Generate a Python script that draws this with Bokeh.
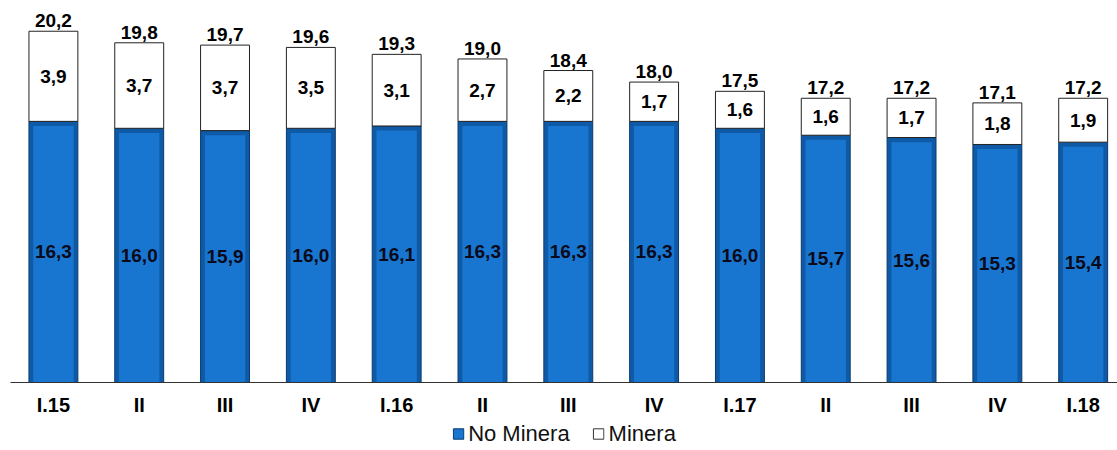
from bokeh.plotting import figure
from bokeh.layouts import column
from bokeh.models import ColumnDataSource, Range1d, FixedTicker, Legend, LegendItem
from bokeh.core.properties import value
from bokeh.embed import file_html
from bokeh.resources import INLINE

categories = ["I.15", "II", "III", "IV", "I.16", "II", "III", "IV", "I.17", "II", "III", "IV", "I.18"]
no_minera = [16.3, 16.0, 15.9, 16.0, 16.1, 16.3, 16.3, 16.3, 16.0, 15.7, 15.6, 15.3, 15.4]
minera = [3.9, 3.7, 3.7, 3.5, 3.1, 2.7, 2.2, 1.7, 1.6, 1.6, 1.7, 1.8, 1.9]
totals = [20.2, 19.8, 19.7, 19.6, 19.3, 19.0, 18.4, 18.0, 17.5, 17.2, 17.2, 17.1, 17.2]
series_names = ["No Minera", "Minera"]

Y_MIN = 5.0
Y_MAX = 21.53

BLUE_EDGE = "#0f5aa6"
BLUE_LINE = "#0a3a6e"
BLUE_MAIN = "#1976d0"

def fmt(v):
    return f"{v:.1f}".replace(".", ",")

x = list(range(len(categories)))
top = [a + b for a, b in zip(no_minera, minera)]
src = ColumnDataSource(dict(
    x=x,
    nm=no_minera,
    nm_inner=[v - 0.2 for v in no_minera],
    nm_lab=[fmt(v) for v in no_minera],
    nm_y=[(Y_MIN + v) / 2 for v in no_minera],
    m=minera,
    top=top,
    m_lab=[fmt(v) for v in minera],
    m_y=[a + b / 2 for a, b in zip(no_minera, minera)],
    tot=totals,
    tot_lab=[fmt(v) for v in totals],
))

p = figure(frame_width=1107, frame_height=382,
           output_backend="svg", toolbar_location=None,
           x_range=Range1d(-0.5, 12.4), y_range=Range1d(Y_MIN, Y_MAX),
           min_border_left=10, min_border_right=0, min_border_top=0, min_border_bottom=0)
p.outline_line_color = None
p.xgrid.visible = False
p.ygrid.visible = False
p.yaxis.visible = False

BW = 0.57
p.vbar(x="x", top="nm", bottom=0, width=BW, source=src,
       fill_color=BLUE_EDGE, line_color=BLUE_LINE, line_width=1)
p.vbar(x="x", top="nm_inner", bottom=0, width=BW - 0.1, source=src,
       fill_color=BLUE_MAIN, line_color=None)
p.vbar(x="x", top="top", bottom="nm", width=BW, source=src,
       fill_color="white", line_color="#222222", line_width=1)

font = value("Liberation Sans")
p.text(x="x", y="nm_y", text="nm_lab", source=src, text_align="center", text_baseline="middle",
       text_font=font, text_font_style="bold", text_font_size="19px", text_color="#0a0a1a")
p.text(x="x", y="m_y", text="m_lab", source=src, text_align="center", text_baseline="middle",
       text_font=font, text_font_style="bold", text_font_size="19px", text_color="#000000")
p.text(x="x", y="top", text="tot_lab", source=src, text_align="center", text_baseline="bottom",
       y_offset=-4, text_font=font, text_font_style="bold", text_font_size="19px", text_color="#000000")

ax = p.xaxis[0]
ax.ticker = FixedTicker(ticks=x)
ax.major_label_overrides = {i: c for i, c in zip(x, categories)}
ax.axis_line_color = "#333333"
ax.axis_line_width = 1
ax.major_tick_line_color = None
ax.minor_tick_line_color = None
ax.major_tick_out = 0
ax.major_tick_in = 0
ax.major_label_standoff = 11
ax.major_label_text_font = "Liberation Sans"
ax.major_label_text_font_style = "bold"
ax.major_label_text_font_size = "20px"
ax.major_label_text_color = "#000000"

# legend strip below the chart (its helper bars use the same data but lie outside its view)
lp = figure(width=1117, height=31, output_backend="svg", toolbar_location=None,
            x_range=Range1d(100, 101), y_range=Range1d(100, 101),
            min_border_left=0, min_border_right=0, min_border_top=0, min_border_bottom=0)
lp.outline_line_color = None
lp.xaxis.visible = False
lp.yaxis.visible = False
lp.xgrid.visible = False
lp.ygrid.visible = False
r_blue = lp.vbar(x="x", top="nm", bottom=0, width=BW, source=src,
                 fill_color=BLUE_MAIN, line_color=BLUE_LINE)
r_white = lp.vbar(x="x", top="top", bottom="nm", width=BW, source=src,
                  fill_color="white", line_color="#333333")
legend = Legend(items=[LegendItem(label=series_names[0], renderers=[r_blue]),
                       LegendItem(label=series_names[1], renderers=[r_white])],
                orientation="horizontal", location="center",
                label_text_font="Liberation Sans", label_text_font_size="22px",
                label_text_color="#111111", glyph_width=13, glyph_height=13,
                label_standoff=4, spacing=22, padding=0, margin=0,
                border_line_color=None, background_fill_alpha=0)
lp.add_layout(legend)

layout = column(p, lp, spacing=0)
open("out.html", "w").write(file_html(layout, INLINE))
